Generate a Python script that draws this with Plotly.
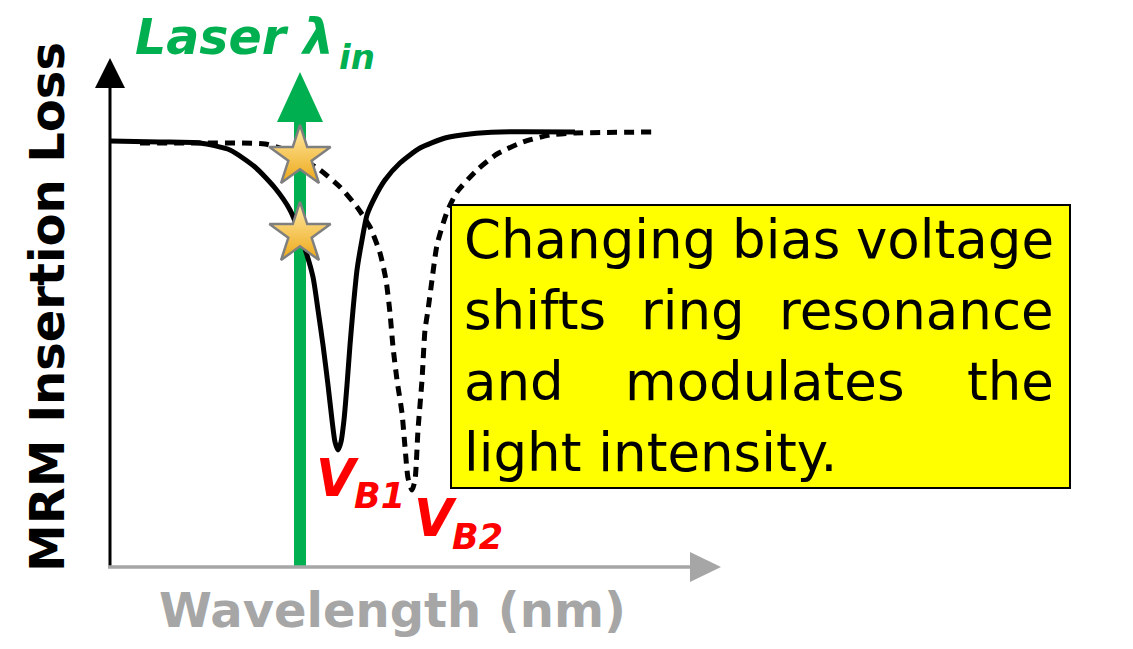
import plotly.graph_objects as go

# ---------------- data (wavelength a.u., insertion-loss axis a.u.) ----------------
wl_vb1 = [0.0, 5.0, 9.0, 12.0, 14.5, 16.5, 18.0, 19.3, 20.3, 20.8, 21.3, 21.8, 22.2, 22.5,
          22.8, 23.1, 23.4, 23.7, 24.0, 24.3, 24.7, 25.2, 25.7, 26.5, 27.5, 29.0, 31.0,
          33.5, 36.0, 39.0, 46.5]
il_vb1 = [42.6, 42.5, 42.4, 41.7, 40.0, 37.9, 35.7, 32.4, 29.0, 25.7, 22.2, 18.2, 14.7, 12.5,
          11.7, 12.5, 14.7, 18.2, 22.2, 25.7, 29.7, 32.7, 35.2, 37.0, 38.7, 40.4, 41.9,
          42.9, 43.3, 43.5, 43.5]

wl_vb2 = [3.0, 9.0, 15.5, 17.5, 19.0, 21.0, 23.0, 24.7, 26.0, 27.0, 27.6, 28.0, 28.3, 28.7,
          29.2, 29.5, 29.8, 30.2, 30.5, 30.8, 31.2, 31.5, 31.8, 32.2, 32.7, 33.7, 34.7,
          36.7, 38.7, 41.3, 44.0, 46.5, 54.2]
il_vb2 = [42.4, 42.4, 42.3, 41.7, 40.9, 39.7, 38.0, 36.0, 34.0, 31.4, 28.7, 25.4, 22.0, 18.7,
          15.4, 12.0, 8.9, 7.7, 8.7, 13.7, 18.7, 23.7, 25.7, 28.7, 32.2, 35.5, 37.5,
          39.7, 41.3, 42.5, 43.2, 43.4, 43.5]

laser_wl = 19.0
star_il = [41.0, 33.3]          # operating points at the laser wavelength (V_B2, V_B1)

box_lines = [["Changing", "bias", "voltage"],
             ["shifts", "ring", "resonance"],
             ["and", "modulates", "the"],
             ["light intensity."]]

# ---------------- layout helpers (screen pixel -> axis units) ----------------
PAGE_OFF = 8                     # default page margin around the figure
W, H = 1133 - PAGE_OFF, 649 - PAGE_OFF
X0, Y0, S = 110.0, 567.0, 10.0


def X(px):
    return (px - X0) / S


def Y(py):
    return (Y0 - py) / S


BLACK = "#000000"
GREEN = "#00B050"
GRAY = "#A6A6A6"
RED = "#FF0000"
FONT = "DejaVu Sans"

fig = go.Figure()

# resonance curves
fig.add_trace(go.Scatter(x=wl_vb1, y=il_vb1, mode="lines",
                         line=dict(color=BLACK, width=5, shape="spline", smoothing=0.6),
                         hoverinfo="skip", showlegend=False))
fig.add_trace(go.Scatter(x=wl_vb2, y=il_vb2, mode="lines",
                         line=dict(color=BLACK, width=5, dash="10px,7px", shape="spline",
                                   smoothing=0.6),
                         hoverinfo="skip", showlegend=False))

# stars at laser wavelength
fig.add_trace(go.Scatter(x=[laser_wl] * len(star_il), y=star_il, mode="markers",
                         marker=dict(symbol="star", size=46, color="#FFEBA8",
                                     gradient=dict(type="vertical", color="#EDA818"),
                                     line=dict(color="#7F7F7F", width=2.5)),
                         hoverinfo="skip", showlegend=False))

shapes = []
# green laser arrow (shaft + head)
shapes.append(dict(type="line", xref="x", yref="y", x0=laser_wl, x1=laser_wl,
                   y0=Y(567), y1=Y(118), line=dict(color=GREEN, width=12), layer="below"))
hx, hb, ht, hw = laser_wl, Y(122), Y(72), 2.3
shapes.append(dict(type="path", xref="x", yref="y",
                   path=f"M {hx-hw},{hb} L {hx+hw},{hb} L {hx},{ht} Z",
                   fillcolor=GREEN, line=dict(color=GREEN, width=0), layer="below"))

# y axis (black) with arrow
shapes.append(dict(type="line", xref="x", yref="y", x0=0, x1=0, y0=Y(568), y1=Y(86),
                   line=dict(color=BLACK, width=3)))
shapes.append(dict(type="path", xref="x", yref="y",
                   path=f"M {-1.5},{Y(88)} L {1.5},{Y(88)} L 0,{Y(58)} Z",
                   fillcolor=BLACK, line=dict(color=BLACK, width=0)))
# x axis (gray) with arrow
shapes.append(dict(type="line", xref="x", yref="y", x0=X(108), x1=X(692), y0=0, y1=0,
                   line=dict(color=GRAY, width=3.5)))
shapes.append(dict(type="path", xref="x", yref="y",
                   path=f"M {X(690)},{1.5} L {X(690)},{-1.5} L {X(721)},0 Z",
                   fillcolor=GRAY, line=dict(color=GRAY, width=0)))

# yellow annotation box
shapes.append(dict(type="rect", xref="x", yref="y", x0=X(451), x1=X(1070), y0=Y(205), y1=Y(488),
                   fillcolor="#FFFF00", line=dict(color=BLACK, width=2), layer="above"))

annotations = []


def txt(text, px, py, size, color, xanchor="center", yanchor="middle", angle=0,
        weight="normal", style="normal"):
    annotations.append(dict(text=text, x=X(px), y=Y(py), xref="x", yref="y",
                            xanchor=xanchor, yanchor=yanchor, showarrow=False,
                            textangle=angle, borderpad=0,
                            font=dict(family=FONT, size=size, color=color,
                                      weight=weight, style=style)))


# box text (justified by anchoring words)
line_y = [239, 310, 381, 452]
mid_x = [786, 693, 765]
LEFT, RIGHT = 463, 1055
for i, words in enumerate(box_lines):
    txt(words[0], LEFT, line_y[i], 53, BLACK, xanchor="left")
    if len(words) == 3:
        txt(words[1], mid_x[i], line_y[i], 53, BLACK, xanchor="center")
        txt(words[2], RIGHT, line_y[i], 53, BLACK, xanchor="right")

txt("MRM Insertion Loss", 47, 307, 48, BLACK, angle=-90, weight="bold")
txt("Wavelength (nm)", 392, 610, 48, GRAY, weight="bold")

# "Laser λ_in"
txt("Laser λ", 134, 37, 49, GREEN, xanchor="left", weight="bold", style="italic")
txt("in", 338, 57, 34, GREEN, xanchor="left", weight="bold", style="italic")
# "V_B1", "V_B2"
txt("V", 315, 478, 51, RED, xanchor="left", weight="bold", style="italic")
txt("B1", 353, 496, 35, RED, xanchor="left", weight="bold", style="italic")
txt("V", 413, 518, 51, RED, xanchor="left", weight="bold", style="italic")
txt("B2", 451, 537, 35, RED, xanchor="left", weight="bold", style="italic")

fig.update_layout(
    width=W, height=H,
    margin=dict(l=0, r=0, t=0, b=0),
    paper_bgcolor="white", plot_bgcolor="white",
    xaxis=dict(range=[X(PAGE_OFF), X(PAGE_OFF + W)], visible=False, fixedrange=True),
    yaxis=dict(range=[Y(PAGE_OFF + H), Y(PAGE_OFF)], visible=False, fixedrange=True),
    shapes=shapes, annotations=annotations,
    showlegend=False,
)

fig.write_html("out.html")
